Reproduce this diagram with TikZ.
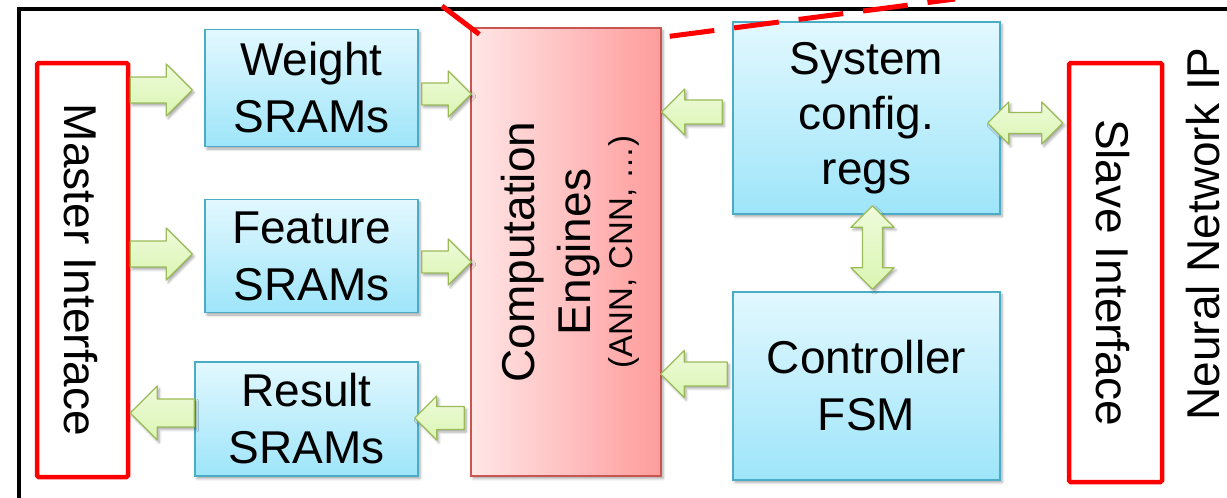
\documentclass[tikz,border=0pt]{standalone}
\usepackage{fontspec}
\setmainfont{Liberation Sans}
\usetikzlibrary{calc,shadows.blur}

\definecolor{boxedge}{RGB}{75,172,198}
\definecolor{boxtop}{RGB}{226,248,254}
\definecolor{boxbot}{RGB}{158,229,250}
\definecolor{engleft}{RGB}{255,230,230}
\definecolor{engright}{RGB}{255,156,156}
\definecolor{engedge}{RGB}{200,85,80}
\definecolor{arrtop}{RGB}{238,251,218}
\definecolor{arrbot}{RGB}{218,245,178}
\definecolor{arredge}{RGB}{155,187,89}
\definecolor{ifred}{RGB}{255,0,0}

% horizontal block arrow: tail, tip, direction (1 = right, -1 = left), half head width, half shaft width
\newcommand\blockarrow[5]{%
  \draw[blockarrow] ($(#1)+(0,-#5)$) -- ($(#2)+({-(#4)*(#3)},-#5)$) -- ($(#2)+({-(#4)*(#3)},-#4)$)
    -- (#2) -- ($(#2)+({-(#4)*(#3)},#4)$) -- ($(#2)+({-(#4)*(#3)},#5)$) -- ($(#1)+(0,#5)$) -- cycle;}
% horizontal double block arrow: left tip, right tip, half head width, half shaft width
\newcommand\hdoublearrow[4]{%
  \draw[blockarrow] (#1) -- ($(#1)+(#3,-#3)$) -- ($(#1)+(#3,-#4)$) -- ($(#2)+(-#3,-#4)$) -- ($(#2)+(-#3,-#3)$)
    -- (#2) -- ($(#2)+(-#3,#3)$) -- ($(#2)+(-#3,#4)$) -- ($(#1)+(#3,#4)$) -- ($(#1)+(#3,#3)$) -- cycle;}
% vertical double block arrow: upper tip, lower tip, half head width, half shaft width
\newcommand\vdoublearrow[4]{%
  \draw[blockarrow] (#1) -- ($(#1)+(#3,#3)$) -- ($(#1)+(#4,#3)$) -- ($(#2)+(#4,-#3)$) -- ($(#2)+(#3,-#3)$)
    -- (#2) -- ($(#2)+(-#3,-#3)$) -- ($(#2)+(-#4,-#3)$) -- ($(#1)+(-#4,#3)$) -- ($(#1)+(-#3,#3)$) -- cycle;}

\begin{document}
\begin{tikzpicture}[x=1pt,y=-1pt,
  bigtext/.style={font=\fontsize{46}{57}\selectfont},
  softshadow/.style={blur shadow={shadow xshift=2pt,shadow yshift=-2.5pt,shadow blur radius=2.5pt,shadow opacity=35}},
  membox/.style={draw=boxedge,line width=1.6pt,top color=boxtop,bottom color=boxbot,inner sep=0pt,align=center,bigtext,softshadow},
  engbox/.style={draw=engedge,line width=1.4pt,left color=engleft,right color=engright,inner sep=0pt,softshadow},
  ifbox/.style={draw=ifred,line width=4.5pt,fill=white,rounded corners=1.5pt,inner sep=0pt},
  blockarrow/.style={draw=arredge,line width=1.3pt,top color=arrtop,bottom color=arrbot,line join=round,softshadow},
  zoomline/.style={draw=ifred,line width=5pt}]

\useasboundingbox (0,0) rectangle (1227,498);
\clip (0,0) rectangle (1227,498);

% IP boundary
\draw[line width=3.5pt] (19,9) rectangle (1270,540);

% bus interfaces
\node[ifbox,minimum width=91pt,minimum height=414pt] (master) at (82.5,270) {};
\node[bigtext,rotate=-90] (mastertext) at ($(master.center)+(-2,0)$) {Master Interface};
\node[ifbox,minimum width=93pt,minimum height=419pt] (slave) at (1115.5,272.5) {};
\node[bigtext,rotate=-90] (slavetext) at ($(slave.center)+(-3,0)$) {Slave Interface};
\node[bigtext,rotate=90,inner sep=0pt] (iplabel) at (1203,234) {Neural Network IP};

% on-chip memories
\node[membox,minimum width=213pt,minimum height=117pt] (wsram) at (311.5,88) {Weight\\SRAMs};
\node[membox,minimum width=213pt,minimum height=113pt] (fsram) at (311.5,256) {Feature\\SRAMs};
\node[membox,minimum width=223pt,minimum height=114pt] (rsram) at (306.5,419) {Result\\SRAMs};

% compute core
\node[engbox,minimum width=190pt,minimum height=448pt] (comp) at (566,252) {};
\node[rotate=90,align=center,font=\fontsize{46}{56}\selectfont] (comptext) at ($(comp.center)+(4,0)$)
  {Computation\\Engines\\[-14pt]{\fontsize{33}{42}\selectfont (ANN, CNN, …)}};

% control
\node[membox,minimum width=267pt,minimum height=192pt,font=\fontsize{46}{55}\selectfont] (sys) at (866.5,118) {System\\config.\\regs};
\node[membox,minimum width=267pt,minimum height=188pt] (ctrl) at (866.5,386) {Controller\\FSM};

% data paths
\coordinate (a1t) at (master.east |- wsram.west);
\coordinate (a1h) at ($(wsram.west)+(-12,0)$);
\blockarrow{$(a1t)+(0,2)$}{$(a1h)+(0,2)$}{1}{26}{13}
\blockarrow{$(wsram.east)+(3,6)$}{$(comp.west |- wsram.east)+(1,6)$}{1}{23}{11}
\coordinate (a3t) at (master.east |- fsram.west);
\coordinate (a3h) at ($(fsram.west)+(-12,0)$);
\blockarrow{$(a3t)+(0,-2)$}{$(a3h)+(0,-2)$}{1}{26}{13}
\blockarrow{$(fsram.east)+(3,6)$}{$(comp.west |- fsram.east)+(1,6)$}{1}{23}{11}
\blockarrow{$(comp.west |- rsram.east)+(-6,-1)$}{$(rsram.east)+(-4,-1)$}{-1}{22}{11.5}
\blockarrow{$(rsram.west)+(0,-6)$}{$(master.east |- rsram.west)+(0,-6)$}{-1}{27}{14}

% control paths
\blockarrow{$(sys.west)+(-10,-6)$}{$(comp.east |- sys.west)+(0,-6)$}{-1}{23}{12}
\blockarrow{$(ctrl.west)+(-5,-12)$}{$(comp.east |- ctrl.west)+(-1,-12)$}{-1}{23.5}{12}
\hdoublearrow{$(sys.east)+(-13,5)$}{$(slave.west |- sys.east)+(-4,5)$}{21}{10.5}
\vdoublearrow{$(sys.south)+(6,-9)$}{$(ctrl.north)+(6,-2)$}{21.5}{10}

% zoom-out lines from the compute core
\coordinate (zl) at (442,6);
\coordinate (zr) at (955,-1);
\draw[zoomline] ($(comp.north west)+(9,7)$) -- (zl);
\draw[zoomline,dash pattern=on 45pt off 20pt] ($(comp.north east)+(8,9)$) -- (zr);
\end{tikzpicture}
\end{document}
